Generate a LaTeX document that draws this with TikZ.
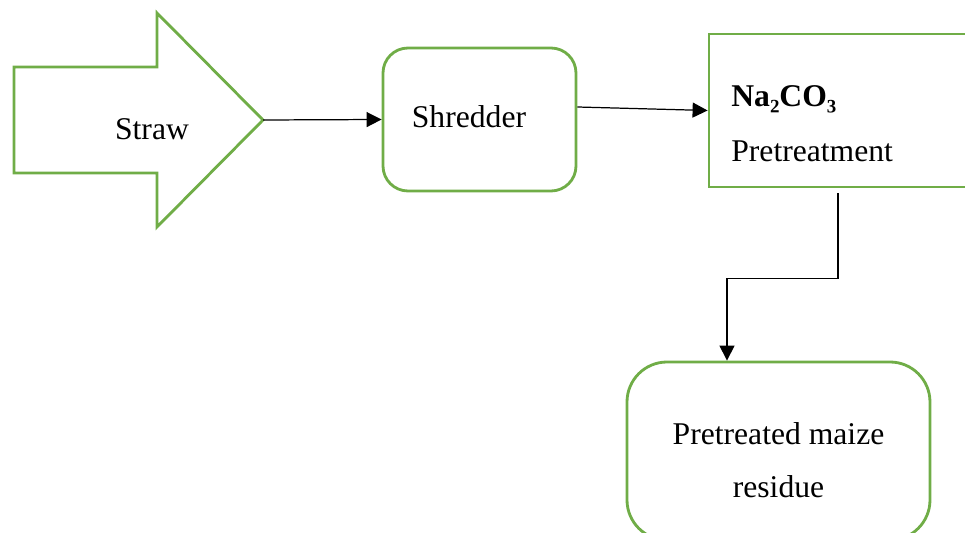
\documentclass[tikz,border=0pt]{standalone}
\usepackage{fontspec}
\setmainfont{Liberation Serif}
\usepackage{tikz}
\usetikzlibrary{arrows.meta}
\definecolor{G}{RGB}{112, 173, 71}

\begin{document}
\begin{tikzpicture}[
	greenbox/.style={draw=G, line width=1.6pt, fill=white},
	flow/.style={line width=0.7pt, -{Triangle[length=0.3cm,width=0.3cm]}},
	txt/.style={font=\fontsize{18}{22}\selectfont, inner sep=0pt}]
			\useasboundingbox (0,0) rectangle (19.3,-10.66);
			\clip (0,0) rectangle (19.3,-10.66);
			% straw arrow
			\draw[greenbox] (0.28,-1.34) -- (3.14,-1.34) -- (3.14,-0.26) -- (5.26,-2.40)
				-- (3.14,-4.54) -- (3.14,-3.46) -- (0.28,-3.46) -- cycle;
			\coordinate (tip) at (5.26,-2.40);
			\node[txt, anchor=base] (straw) at (3.04,-2.80) {Straw};
			% boxes
			\node[greenbox, rounded corners=0.5cm, minimum width=3.86cm, minimum height=2.86cm] (shred) at (9.59,-2.39) {};
			\node[txt, anchor=base] (shredtxt) at (9.38,-2.56) {Shredder};
			\node[greenbox, minimum width=5.62cm, minimum height=3.06cm] (pre) at (16.99,-2.21) {};
			\node[txt, anchor=base west] (natxt) at (14.62,-2.14) {\bfseries Na₂CO₃};
			\node[txt, anchor=base west] (pretxt) at (14.62,-3.24) {Pretreatment};
			\node[greenbox, rounded corners=0.8cm, minimum width=6.06cm, minimum height=3.56cm] (res) at (15.57,-9.02) {};
			\node[txt, anchor=base] (restxt1) at (15.57,-8.90) {Pretreated maize};
			\node[txt, anchor=base] (restxt2) at (15.57,-9.96) {residue};
			% connectors
			\draw[flow] (tip) -- (shred.west);
			\draw[flow] ([yshift=0.25cm]shred.east) -- (pre.west);
			\draw[flow] ([xshift=-0.23cm, yshift=-0.1cm]pre.south) -- ++(0,-1.7) -| ([xshift=-1.03cm]res.north);
\end{tikzpicture}
\end{document}
